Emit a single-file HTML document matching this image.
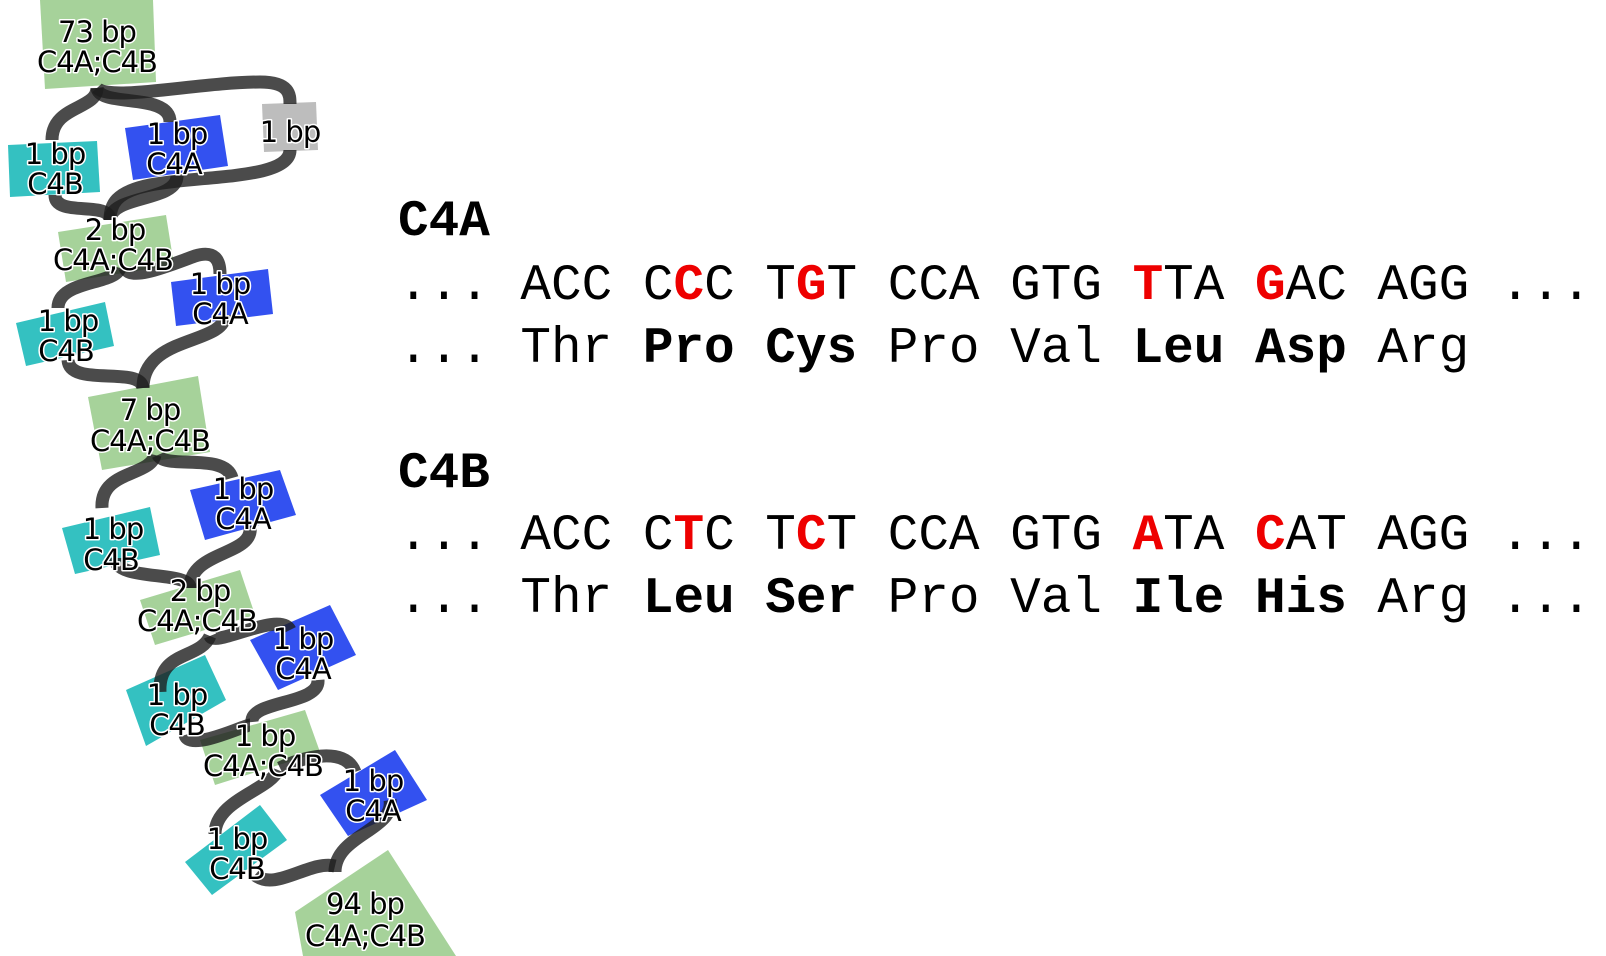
<!DOCTYPE html>
<html><head><meta charset="utf-8"><style>
html,body{margin:0;padding:0;background:#fff;width:1606px;height:956px;overflow:hidden}
svg{position:absolute;left:0;top:0}
.t{font-family:"DejaVu Sans","Liberation Sans",sans-serif;font-size:29px;fill:#000;stroke:#fff;stroke-width:3px;paint-order:stroke;stroke-linejoin:round;text-anchor:middle;letter-spacing:-1px}
.m{font-family:"Liberation Mono","Courier New",monospace;font-size:51px;fill:#000;white-space:pre}
.b{font-weight:bold}
.r{fill:#e00;font-weight:bold}
</style></head><body>
<svg width="1606" height="956" viewBox="0 0 1606 956">
<g fill="#a6d29a">
<polygon points="40,0 153,0 156,82 45,89"/>
<polygon points="58,232 166,215 174,265 66,282"/>
<polygon points="88,397 198,376 210,452 102,470"/>
<polygon points="140,600 240,570 255,615 155,645"/>
<polygon points="200,740 305,710 320,752 215,785"/>
<polygon points="295,912 388,850 456,956 303,956"/>
</g>
<g fill="#34c1c1">
<polygon points="8,145 97,141 100,192 10,197"/>
<polygon points="16,323 105,302 114,346 26,366"/>
<polygon points="62,528 150,507 160,555 75,574"/>
<polygon points="126,690 205,655 226,700 146,746"/>
<polygon points="185,862 260,805 287,840 212,895"/>
</g>
<g fill="#3351f0">
<polygon points="125,128 220,115 228,166 133,180"/>
<polygon points="171,282 268,269 273,314 176,326"/>
<polygon points="190,490 280,470 296,515 205,540"/>
<polygon points="250,640 330,605 356,655 278,690"/>
<polygon points="320,795 395,750 427,800 348,836"/>
</g>
<polygon points="262,104 316,102 318,150 264,152" fill="#bdbdbd"/>
<g fill="none" stroke="#1e1e1e" stroke-opacity="0.8" stroke-width="13" stroke-linecap="butt">
<path d="M97,88 C97,110 52,105 52,140"/>
<path d="M97,88 C100,108 170,92 170,122"/>
<path d="M97,88 C110,102 200,82 260,82 C290,82 290,95 290,104"/>
<path d="M55,195 C55,218 110,200 110,220"/>
<path d="M177,176 C177,202 110,195 110,220"/>
<path d="M290,150 C290,180 200,175 150,185 C115,192 110,205 110,220"/>
<path d="M120,268 C115,285 58,280 58,308"/>
<path d="M125,268 C130,282 170,265 195,256 C215,250 220,260 220,274"/>
<path d="M68,360 C70,388 140,365 143,388"/>
<path d="M225,315 C225,345 143,335 143,388"/>
<path d="M155,455 C150,477 100,470 102,508"/>
<path d="M158,455 C165,470 225,452 232,478"/>
<path d="M115,558 C115,582 190,570 190,588"/>
<path d="M250,526 C255,556 190,550 190,588"/>
<path d="M210,636 C200,660 158,650 160,692"/>
<path d="M210,636 C215,648 280,610 290,630"/>
<path d="M185,735 C190,752 245,725 250,725"/>
<path d="M318,680 C320,705 250,700 252,722"/>
<path d="M278,770 C270,790 215,800 215,834"/>
<path d="M280,768 C300,758 345,745 355,772"/>
<path d="M255,875 C275,892 310,860 335,866"/>
<path d="M390,800 C395,830 335,835 335,872"/>
</g>
<g class="t">
<text x="97" y="42">73 bp</text><text x="97" y="72">C4A;C4B</text>
<text x="55" y="164">1 bp</text><text x="55" y="194">C4B</text>
<text x="177" y="144">1 bp</text><text x="174" y="174">C4A</text>
<text x="290" y="142">1 bp</text>
<text x="115" y="240">2 bp</text><text x="113" y="270">C4A;C4B</text>
<text x="220" y="294">1 bp</text><text x="220" y="324">C4A</text>
<text x="68" y="331">1 bp</text><text x="66" y="361">C4B</text>
<text x="150" y="420">7 bp</text><text x="150" y="451">C4A;C4B</text>
<text x="243" y="499">1 bp</text><text x="243" y="529">C4A</text>
<text x="113" y="539">1 bp</text><text x="111" y="570">C4B</text>
<text x="200" y="601">2 bp</text><text x="197" y="631">C4A;C4B</text>
<text x="303" y="649">1 bp</text><text x="303" y="679">C4A</text>
<text x="177" y="705">1 bp</text><text x="177" y="735">C4B</text>
<text x="265" y="746">1 bp</text><text x="263" y="776">C4A;C4B</text>
<text x="373" y="791">1 bp</text><text x="373" y="821">C4A</text>
<text x="237" y="849">1 bp</text><text x="237" y="879">C4B</text>
<text x="365" y="914">94 bp</text><text x="365" y="946">C4A;C4B</text>
</g>
<g class="m">
<text x="398" y="235" class="b">C4A</text>
<text x="398" y="299">... ACC C<tspan class="r">C</tspan>C T<tspan class="r">G</tspan>T CCA GTG <tspan class="r">T</tspan>TA <tspan class="r">G</tspan>AC AGG ...</text>
<text x="398" y="362">... Thr <tspan class="b">Pro</tspan> <tspan class="b">Cys</tspan> Pro Val <tspan class="b">Leu</tspan> <tspan class="b">Asp</tspan> Arg</text>
<text x="398" y="487" class="b">C4B</text>
<text x="398" y="549">... ACC C<tspan class="r">T</tspan>C T<tspan class="r">C</tspan>T CCA GTG <tspan class="r">A</tspan>TA <tspan class="r">C</tspan>AT AGG ...</text>
<text x="398" y="612">... Thr <tspan class="b">Leu</tspan> <tspan class="b">Ser</tspan> Pro Val <tspan class="b">Ile</tspan> <tspan class="b">His</tspan> Arg ...</text>
</g>
</svg>
</body></html>
